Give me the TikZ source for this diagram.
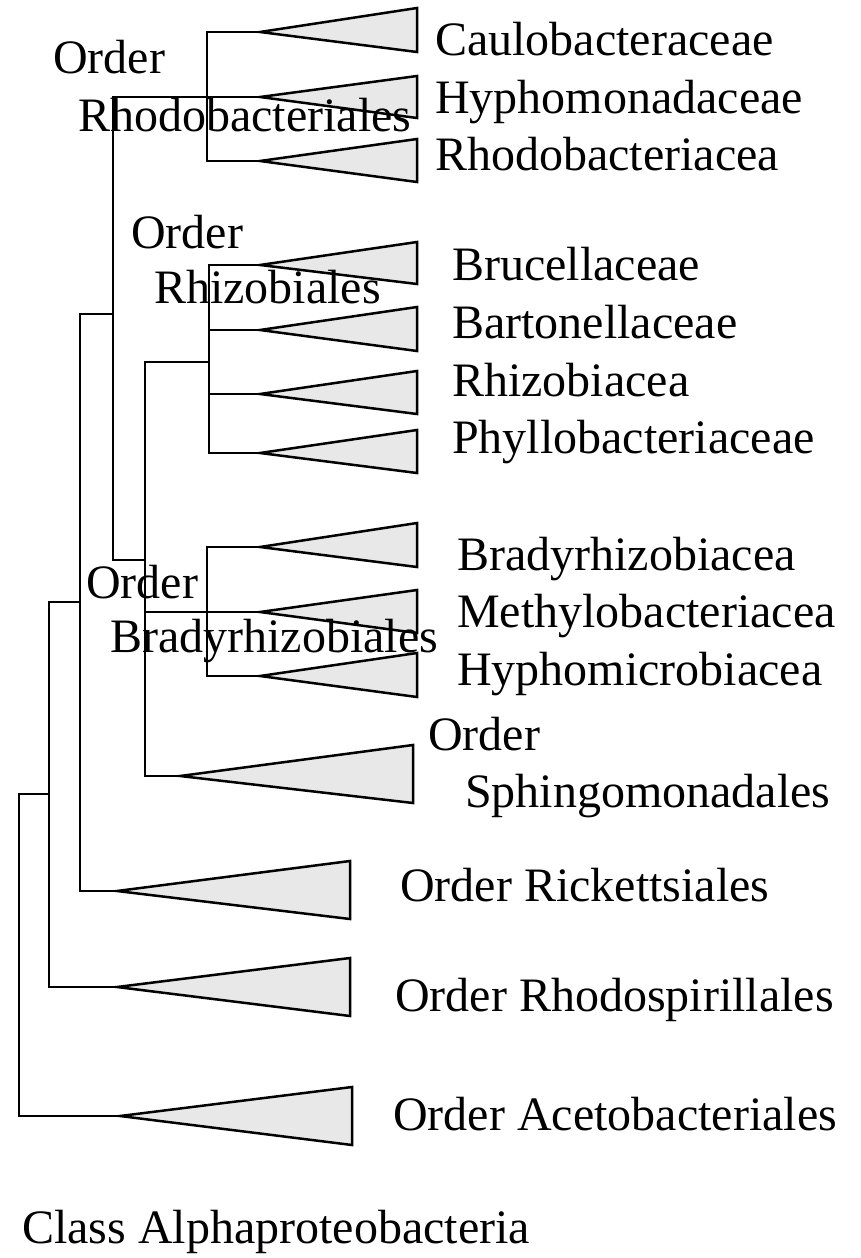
\documentclass[tikz,border=0pt]{standalone}
\usepackage{fontspec}
\setmainfont{Liberation Serif}
\begin{document}
\begin{tikzpicture}[x=1pt,y=-1pt,
  branch/.style={draw=black, line width=2.1pt, line join=miter},
  tri/.style={draw=black, fill=black!9, line width=2.5pt, line join=miter},
  lbl/.style={anchor=base west, inner sep=0pt, font=\fontsize{48}{52}\selectfont}]
\useasboundingbox (0,0) rectangle (861,1258);
\newcommand\drawtri[6]{\draw[tri] (#1) -- (#4,#5) -- (#4,#6) -- cycle;}
% apex coordinates
\coordinate (t1) at (260,32);
\coordinate (t2) at (260,97);
\coordinate (t3) at (260,161);
\coordinate (t4) at (260,265);
\coordinate (t5) at (260,330);
\coordinate (t6) at (260,394);
\coordinate (t7) at (260,453);
\coordinate (t8) at (260,547);
\coordinate (t9) at (260,612);
\coordinate (t10) at (260,676);
\coordinate (t11) at (180,776);
\coordinate (t12) at (117,891);
\coordinate (t13) at (117,987);
\coordinate (t14) at (120,1116);
% junction coordinates
\coordinate (Rt) at (207,32);  \coordinate (Rb) at (207,161);
\coordinate (At) at (113,97);  \coordinate (Ab) at (113,560); \coordinate (Am) at (113,314);
\coordinate (Bt) at (145,362); \coordinate (Bb) at (145,776);
\coordinate (Bm1) at (145,560); \coordinate (Bm2) at (145,612);
\coordinate (Zt) at (209,265); \coordinate (Zb) at (209,453);
\coordinate (Z2) at (209,330); \coordinate (Z3) at (209,394); \coordinate (Zm) at (209,362);
\coordinate (Yt) at (207,547); \coordinate (Yb) at (207,676);
\coordinate (Ct) at (80,314);  \coordinate (Cb) at (80,891); \coordinate (Cm) at (80,602);
\coordinate (Dt) at (49,602);  \coordinate (Db) at (49,987); \coordinate (Dm) at (49,794);
\coordinate (Et) at (19,794);  \coordinate (Eb) at (19,1116);
% branches
\draw[branch] (t1) -- (Rt) -- (Rb) -- (t3);
\draw[branch] (t2) -- (At) -- (Ab) -- (Bm1);
\draw[branch] (Zm) -- (Bt) -- (Bb) -- (t11);
\draw[branch] (t4) -- (Zt) -- (Zb) -- (t7);
\draw[branch] (Z2) -- (t5);
\draw[branch] (Z3) -- (t6);
\draw[branch] (t8) -- (Yt) -- (Yb) -- (t10);
\draw[branch] (Bm2) -- (t9);
\draw[branch] (Am) -- (Ct) -- (Cb) -- (t12);
\draw[branch] (Cm) -- (Dt) -- (Db) -- (t13);
\draw[branch] (Dm) -- (Et) -- (Eb) -- (t14);
% triangles
\drawtri{t1}{}{}{417}{8}{52}
\drawtri{t2}{}{}{417}{76}{118}
\drawtri{t3}{}{}{417}{139}{182}
\drawtri{t4}{}{}{417}{242}{284}
\drawtri{t5}{}{}{417}{307}{351}
\drawtri{t6}{}{}{417}{371}{414}
\drawtri{t7}{}{}{417}{430}{473}
\drawtri{t8}{}{}{417}{523}{567}
\drawtri{t9}{}{}{417}{590}{633}
\drawtri{t10}{}{}{417}{653}{697}
\drawtri{t11}{}{}{413}{745}{803}
\drawtri{t12}{}{}{350}{861}{919}
\drawtri{t13}{}{}{350}{958}{1016}
\drawtri{t14}{}{}{352}{1087}{1145}
% labels
\node[lbl] (l1) at (435,55) {Caulobacteraceae};
\node[lbl] (l2) at (435,113) {Hyphomonadaceae};
\node[lbl] (l3) at (435,170) {Rhodobacteriacea};
\node[lbl] (l4) at (452,280) {Brucellaceae};
\node[lbl] (l5) at (452,338) {Bartonellaceae};
\node[lbl] (l6) at (452,396) {Rhizobiacea};
\node[lbl] (l7) at (452,453) {Phyllobacteriaceae};
\node[lbl] (l8) at (457,570) {Bradyrhizobiacea};
\node[lbl] (l9) at (457,627) {Methylobacteriacea};
\node[lbl] (l10) at (457,685) {Hyphomicrobiacea};
\node[lbl] (l11a) at (428,750) {Order};
\node[lbl] (l11b) at (465,807) {Sphingomonadales};
\node[lbl] (l12) at (400,901) {Order Rickettsiales};
\node[lbl] (l13) at (395,1011) {Order Rhodospirillales};
\node[lbl] (l14) at (393,1130) {Order Acetobacteriales};
\node[lbl] (o1a) at (53,73) {Order};
\node[lbl] (o1b) at (78,131) {Rhodobacteriales};
\node[lbl] (o2a) at (131,248) {Order};
\node[lbl] (o2b) at (154,303) {Rhizobiales};
\node[lbl] (o3a) at (86,598) {Order};
\node[lbl] (o3b) at (110,652) {Bradyrhizobiales};
\node[lbl] (cls) at (22,1243) {Class Alphaproteobacteria};
\end{tikzpicture}
\end{document}
